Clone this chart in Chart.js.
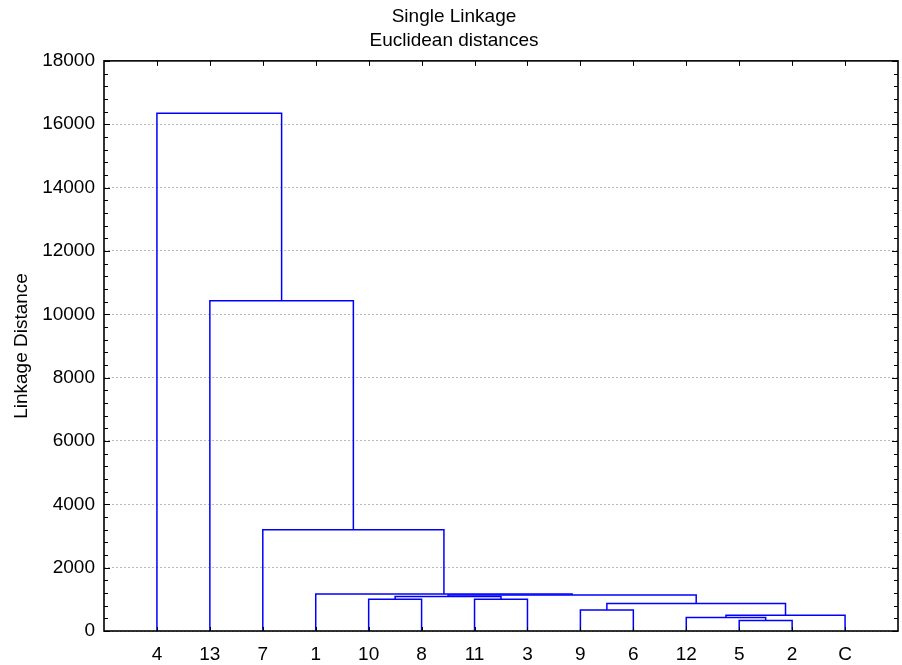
<!DOCTYPE html>
<html>
<head>
<meta charset="utf-8">
<script src="https://cdn.jsdelivr.net/npm/chart.js@4.4.0/dist/chart.umd.min.js"></script>
<style>
  html, body { margin: 0; padding: 0; background: #fff; }
  #wrap { width: 902px; height: 665px; }
</style>
</head>
<body>
<div id="wrap"><canvas id="dendro" width="902" height="665"></canvas></div>
<script>
// leaf order along the bottom axis
const leafLabels = ["4", "13", "7", "1", "10", "8", "11", "3", "9", "6", "12", "5", "2", "C"];
// merges: leaves are nodes 0..13, merge k creates node 14 + k
const mergeLeft   = [11, 10, 15, 8, 17, 4, 6, 19, 21, 3, 2, 1, 0];
const mergeRight  = [12, 14, 13, 9, 16, 5, 7, 20, 18, 22, 23, 24, 25];
const mergeHeight = [330, 430, 495, 660, 870, 1000, 1000, 1090, 1140, 1170, 3200, 10430, 16350];
const yTicks = [0, 2000, 4000, 6000, 8000, 10000, 12000, 14000, 16000, 18000];
const yMinorStep = 400;

// node positions (x = leaf slot, y = merge height)
const nodeX = leafLabels.map((_, i) => i + 1);
const nodeY = leafLabels.map(() => 0);
const links = [];
mergeHeight.forEach((h, k) => {
  const a = mergeLeft[k], b = mergeRight[k];
  links.push({
    label: "link " + k,
    data: [
      { x: nodeX[a], y: nodeY[a] },
      { x: nodeX[a], y: h },
      { x: nodeX[b], y: h },
      { x: nodeX[b], y: nodeY[b] }
    ],
    showLine: true,
    borderColor: "#0000ff",
    borderWidth: 1.5,
    pointRadius: 0,
    tension: 0,
    fill: false
  });
  nodeX.push((nodeX[a] + nodeX[b]) / 2);
  nodeY.push(h);
});

// frame with inward ticks on all four sides
const framePlugin = {
  id: "frame",
  afterDraw(chart) {
    const { ctx, chartArea: ca, scales } = chart;
    const xs = scales.x, ys = scales.y;
    ctx.save();
    ctx.strokeStyle = "#000";
    ctx.lineWidth = 1;
    ctx.beginPath();
    // y ticks left & right
    for (let v = 0; v <= 18000; v += yMinorStep) {
      const y = Math.round(ys.getPixelForValue(v)) + 0.5;
      const len = v % 2000 === 0 ? 6 : 4;
      ctx.moveTo(ca.left, y); ctx.lineTo(ca.left + len, y);
      ctx.moveTo(ca.right, y); ctx.lineTo(ca.right - len, y);
    }
    // x ticks top & bottom
    nodeX.slice(0, leafLabels.length).forEach(v => {
      const x = Math.round(xs.getPixelForValue(v)) + 0.5;
      ctx.moveTo(x, ca.top); ctx.lineTo(x, ca.top + 5);
      ctx.moveTo(x, ca.bottom); ctx.lineTo(x, ca.bottom - 4);
    });
    ctx.stroke();
    ctx.lineWidth = 1.6;
    ctx.strokeRect(ca.left, ca.top, ca.right - ca.left, ca.bottom - ca.top);
    ctx.restore();
  }
};

Chart.defaults.font.family = "'Liberation Sans', Arial, sans-serif";
Chart.defaults.color = "#000";

new Chart(document.getElementById("dendro"), {
  type: "scatter",
  data: { datasets: links },
  options: {
    responsive: false,
    animation: false,
    events: [],
    layout: { padding: { left: 10, right: 4, top: 0, bottom: 0 } },
    plugins: {
      legend: { display: false },
      tooltip: { enabled: false },
      title: {
        display: true,
        text: ["Single Linkage", "Euclidean distances"],
        color: "#000",
        font: { size: 19, weight: "normal", lineHeight: 1.26 },
        padding: { top: 4.5, bottom: 8.5 }
      }
    },
    scales: {
      x: {
        type: "linear",
        min: 0,
        max: 15,
        grid: { display: false, drawTicks: false },
        border: { display: false },
        afterBuildTicks: (scale) => {
          scale.ticks = leafLabels.map((_, i) => ({ value: i + 1 }));
        },
        afterFit: (scale) => { scale.height = 34; },
        ticks: {
          autoSkip: false,
          maxRotation: 0,
          padding: 12,
          font: { size: 19 },
          callback: (v) => leafLabels[v - 1] ?? ""
        }
      },
      y: {
        min: 0,
        max: 18000,
        grid: { color: "#b8b8b8", lineWidth: 1, drawTicks: false },
        border: { display: false, dash: [2, 2] },
        afterBuildTicks: (scale) => {
          scale.ticks = yTicks.map(v => ({ value: v }));
        },
        afterFit: (scale) => { scale.width = 94; },
        ticks: {
          padding: 9,
          font: { size: 19 },
          callback: (v) => String(v)
        },
        title: {
          display: true,
          text: "Linkage Distance",
          font: { size: 19 },
          padding: { top: 0, bottom: 0 }
        }
      }
    }
  },
  plugins: [framePlugin]
});
</script>
</body>
</html>
